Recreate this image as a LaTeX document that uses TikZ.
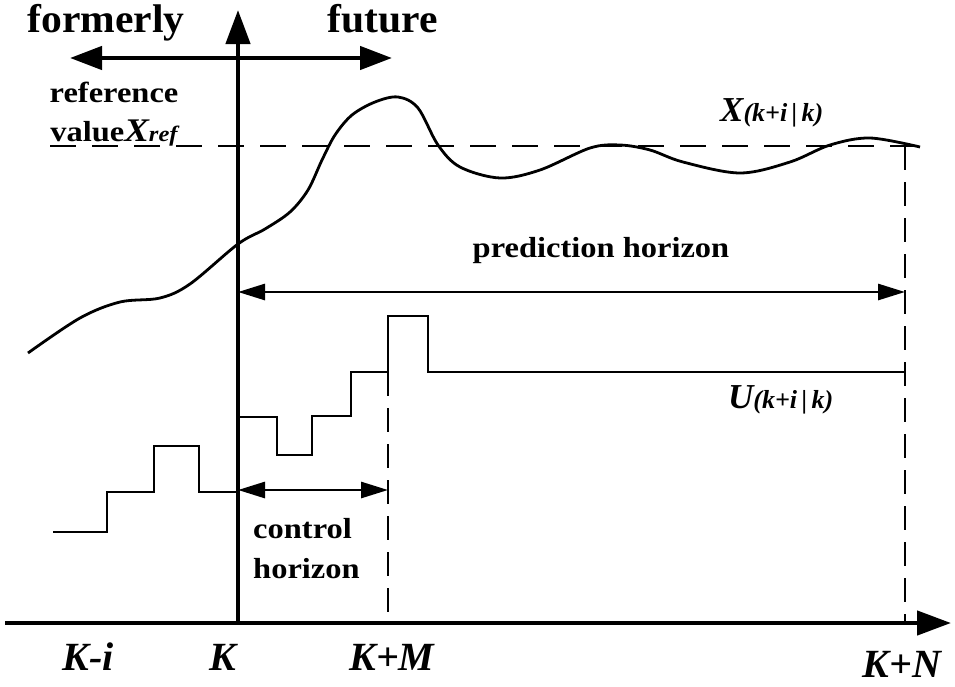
\documentclass[tikz,border=0pt]{standalone}
\usepackage{fontspec}
\setmainfont{Liberation Serif}
\usetikzlibrary{arrows.meta}
\tikzset{
  axisline/.style={line width=4.5pt},
  thinline/.style={line width=2.8pt, line cap=butt},
  dashline/.style={line width=2.8pt, dash pattern=on 26pt off 16pt},
  vdash/.style={line width=2.8pt, dash pattern=on 24pt off 12pt},
  bigtip/.style={-{Triangle[length=34pt,width=24pt]}},
  dbltip/.style={{Triangle[length=32pt,width=23pt]}-{Triangle[length=32pt,width=23pt]}},
  midtip/.style={{Triangle[length=27pt,width=16pt]}-{Triangle[length=27pt,width=16pt]}},
  bigtext/.style={font=\fontsize{40}{40}\selectfont\bfseries, inner sep=0pt, anchor=base, xscale=1.04, transform shape},
  labtext/.style={font=\fontsize{29}{29}\selectfont\bfseries, inner sep=0pt, anchor=base, xscale=1.12, transform shape},
  axtext/.style={font=\fontsize{40}{40}\selectfont\bfseries\itshape, inner sep=0pt, anchor=base},
  vartext/.style={inner sep=0pt, anchor=base west},
}
\begin{document}
\begin{tikzpicture}[x=1pt,y=1pt]
\useasboundingbox (0,0) rectangle (955,-686);
% coordinates
\coordinate (O) at (238,-623);
\coordinate (Ytop) at (238,-10);
\coordinate (Xl) at (5,-623);
\coordinate (Xr) at (951,-623);
\coordinate (Fl) at (70,-58);
\coordinate (Fr) at (392,-58);
\coordinate (Rl) at (50,-146);
\coordinate (Rr) at (920,-146);
\coordinate (Ntop) at (905,-146);
\coordinate (Nbot) at (905,-623);
\coordinate (Mtop) at (388,-372);
\coordinate (Mbot) at (388,-623);
\coordinate (Pl) at (238,-292);
\coordinate (Pr) at (905,-292);
\coordinate (Cl) at (238,-490);
\coordinate (Cr) at (388,-490);
% reference dashed line
\draw[dashline] (Rl) -- (Rr);
% vertical dashed lines
\draw[vdash] (Ntop) -- (Nbot);
\draw[vdash] (Mtop) -- (Mbot);
% axes
\draw[axisline, bigtip] (Xl) -- (Xr);
\draw[axisline, bigtip] (O) -- (Ytop);
\draw[axisline, dbltip] (Fl) -- (Fr);
% output curve
\draw[thinline] plot[smooth, tension=0.55] coordinates {
 (28,-353) (80,-318) (120,-302) (160,-298) (190,-284) (238,-244) (265,-229)
 (290,-212) (308,-190) (322,-160) (335,-135) (352,-115) (375,-102)
 (398,-97) (418,-108)
 (438,-145) (460,-167) (500,-178) (540,-170) (590,-148) (620,-145) (650,-150)
 (683,-162) (740,-173) (790,-162) (830,-145) (870,-138) (920,-147)};
% control steps
\draw[thinline] (53,-532) -- (107,-532) -- (107,-492) -- (154,-492) -- (154,-446)
  -- (199,-446) -- (199,-492) -- (238,-492);
\draw[thinline] (238,-417) -- (277,-417) -- (277,-455) -- (312,-455) -- (312,-416)
  -- (351,-416) -- (351,-372) -- (388,-372) -- (388,-316) -- (428,-316)
  -- (428,-372) -- (905,-372);
% horizon arrows
\draw[thinline, midtip] (Pl) -- (Pr);
\draw[thinline, midtip] (Cl) -- (Cr);
% texts
\node[bigtext] (formerly) at (106,-32) {formerly};
\node[bigtext] (future) at (383,-32) {future};
\node[labtext] (ref1) at (114,-102) {reference};
\node[labtext] (ref2) at (114,-141) {value{\fontsize{33}{33}\selectfont\itshape X}{\fontsize{22}{22}\selectfont\itshape ref}};
\node[labtext] (pred) at (601,-257) {prediction horizon};
\node[labtext, anchor=base west] (ctrl1) at (253,-538) {control};
\node[labtext, anchor=base west] (ctrl2) at (253,-578) {horizon};
\node[axtext] (Ki) at (88,-670) {K-i};
\node[axtext] (K) at (223,-670) {K};
\node[axtext] (KM) at (392,-670) {K+M};
\node[axtext] (KN) at (902,-677) {K+N};
\node[vartext, font=\bfseries\itshape] (Xlab) at (720,-121) {{\fontsize{35}{35}\selectfont X}{\fontsize{26}{26}\selectfont (k+i\,|\,k)}};
\node[vartext, font=\bfseries\itshape] (Ulab) at (728,-408) {{\fontsize{35}{35}\selectfont U}{\fontsize{26}{26}\selectfont (k+i\,|\,k)}};
\end{tikzpicture}
\end{document}
